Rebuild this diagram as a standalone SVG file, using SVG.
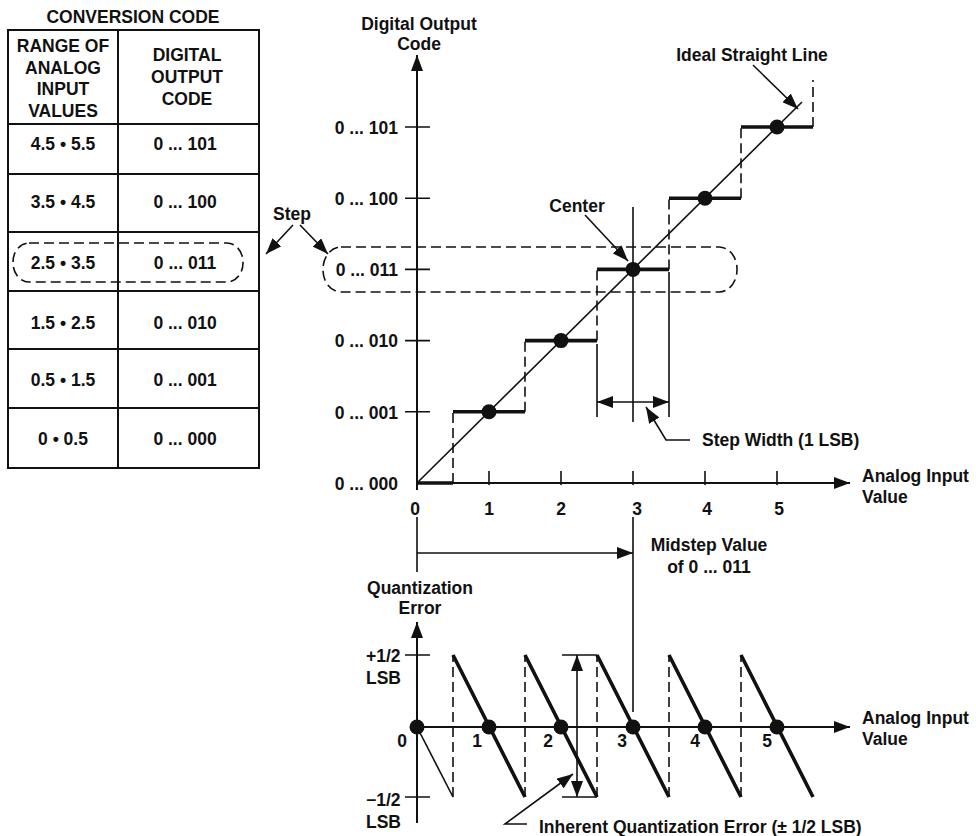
<svg xmlns="http://www.w3.org/2000/svg" width="976" height="836" viewBox="0 0 976 836">
<style>
text{font-family:"Liberation Sans",Arial,Helvetica,sans-serif;font-weight:bold;font-size:17.5px;fill:#111}
.m{text-anchor:middle}.e{text-anchor:end}
.ln{stroke:#111;stroke-width:1.6;fill:none}
.ax{stroke:#111;stroke-width:2;fill:none}
.tk{stroke:#111;stroke-width:3.6;fill:none}
.ds{stroke:#111;stroke-width:1.6;fill:none;stroke-dasharray:10 5}
.dot{fill:#111}
</style>
<defs>
<marker id="ah" markerUnits="userSpaceOnUse" markerWidth="16" markerHeight="12" refX="16" refY="6" orient="auto-start-reverse">
<path d="M0,0 L16,6 L0,12 z" fill="#111"/>
</marker>
</defs>

<g id="table">
<text class="m" x="133" y="22.5">CONVERSION CODE</text>
<rect x="8" y="30" width="251" height="438" fill="none" stroke="#111" stroke-width="2"/>
<line class="ax" x1="118" y1="30" x2="118" y2="468"/>
<line class="ax" x1="8" y1="124" x2="259" y2="124"/>
<line class="ax" x1="8" y1="174" x2="259" y2="174"/>
<line class="ax" x1="8" y1="232" x2="259" y2="232"/>
<line class="ax" x1="8" y1="291" x2="259" y2="291"/>
<line class="ax" x1="8" y1="349" x2="259" y2="349"/>
<line class="ax" x1="8" y1="408" x2="259" y2="408"/>
<text class="m" x="63" y="52">RANGE OF</text>
<text class="m" x="63" y="73.5">ANALOG</text>
<text class="m" x="63" y="95">INPUT</text>
<text class="m" x="63" y="116.5">VALUES</text>
<text class="m" x="187" y="61">DIGITAL</text>
<text class="m" x="187" y="83">OUTPUT</text>
<text class="m" x="187" y="105">CODE</text>
<text class="m" x="63" y="149.5">4.5 • 5.5</text><text class="m" x="185" y="149.5">0 ... 101</text>
<text class="m" x="63" y="207.5">3.5 • 4.5</text><text class="m" x="185" y="207.5">0 ... 100</text>
<text class="m" x="63" y="269">2.5 • 3.5</text><text class="m" x="185" y="269">0 ... 011</text>
<text class="m" x="63" y="329">1.5 • 2.5</text><text class="m" x="185" y="329">0 ... 010</text>
<text class="m" x="63" y="386">0.5 • 1.5</text><text class="m" x="185" y="386">0 ... 001</text>
<text class="m" x="63" y="445">0 • 0.5</text><text class="m" x="185" y="445">0 ... 000</text>
<rect class="ds" x="13" y="243" width="230" height="39" rx="16" ry="19"/>
</g>

<g id="step-label">
<text class="m" x="292" y="220">Step</text>
</g>

<g id="top-chart">
<text class="m" x="419" y="29.5">Digital Output</text>
<text class="m" x="419" y="50">Code</text>
<text class="e" x="398" y="133.5">0 ... 101</text>
<text class="e" x="398" y="204.7">0 ... 100</text>
<text class="e" x="398" y="276">0 ... 011</text>
<text class="e" x="398" y="347">0 ... 010</text>
<text class="e" x="398" y="418.5">0 ... 001</text>
<text class="e" x="398" y="489.5">0 ... 000</text>
<text class="m" x="415" y="515">0</text>
<text class="m" x="489" y="515">1</text>
<text class="m" x="561" y="515">2</text>
<text class="m" x="637" y="515">3</text>
<text class="m" x="707" y="515">4</text>
<text class="m" x="779" y="515">5</text>
<text x="862" y="481.5">Analog Input</text>
<text x="862" y="502.5">Value</text>
<path class="ln" d="M405,127H430M405,198.2H430M405,269.4H430M405,340.6H430M405,411.8H430"/>
<path class="ln" d="M489,471V485M561,471V485M705,471V485M777,471V485M633,471V485"/>
<rect class="ds" x="323" y="247" width="414" height="45" rx="18" ry="22"/>
<path class="tk" d="M417,483H453M453,411.8H525M525,340.6H597M597,269.4H669M669,198.2H741M741,127H813"/>
<path class="ds" d="M453,483V411.8M525,411.8V340.6M597,340.6V269.4M669,269.4V198.2M741,198.2V127M813,127V80"/>
<line class="ln" x1="417" y1="483" x2="802" y2="102"/>
<circle class="dot" cx="489" cy="411.8" r="7.5"/>
<circle class="dot" cx="561" cy="340.6" r="7.5"/>
<circle class="dot" cx="633" cy="269.4" r="7.5"/>
<circle class="dot" cx="705" cy="198.2" r="7.5"/>
<circle class="dot" cx="777" cy="127" r="7.5"/>
<path class="ln" d="M597,344V417M669,272V417M633,207V422"/>
<text class="m" x="577" y="212">Center</text>
<text class="m" x="752" y="61">Ideal Straight Line</text>
<text x="702" y="445.7">Step Width (1 LSB)</text>
</g>

<g id="bottom-chart">
<text class="m" x="420" y="593.5">Quantization</text>
<text class="m" x="420" y="613.5">Error</text>
<text x="366" y="661.5">+1/2</text>
<text x="366" y="684">LSB</text>
<text x="366" y="805.5">−1/2</text>
<text x="366" y="828">LSB</text>
<text class="m" x="402" y="746.5">0</text>
<text class="m" x="477" y="746.5">1</text>
<text class="m" x="548" y="746.5">2</text>
<text class="m" x="622" y="746.5">3</text>
<text class="m" x="695" y="746.5">4</text>
<text class="m" x="767" y="746.5">5</text>
<text x="862" y="723.5">Analog Input</text>
<text x="862" y="745">Value</text>
<text class="m" x="709" y="551">Midstep Value</text>
<text class="m" x="709" y="573">of 0 ... 011</text>
<text x="539" y="833">Inherent Quantization Error (± 1/2 LSB)</text>
<path class="ln" d="M405,655H430M405,797H430M562,655H597M562,797H597"/>
<path class="ds" d="M453,797V655M525,797V655M597,797V655M669,797V655M741,797V655"/>
<line class="ln" x1="417" y1="727" x2="453" y2="797"/>
<path class="tk" d="M453,655L525,797M525,655L597,797M597,655L669,797M669,655L741,797M741,655L813,797"/>
<circle class="dot" cx="417" cy="727" r="7.5"/>
<circle class="dot" cx="489" cy="727" r="7.5"/>
<circle class="dot" cx="561" cy="727" r="7.5"/>
<circle class="dot" cx="633" cy="727" r="7.5"/>
<circle class="dot" cx="705" cy="727" r="7.5"/>
<circle class="dot" cx="777" cy="727" r="7.5"/>
<path class="ln" d="M633,517V712M417,517V572"/>
</g>

<g id="connectors">
<line class="ax" x1="417" y1="490" x2="417" y2="55" marker-end="url(#ah)"/>
<line class="ax" x1="417" y1="483" x2="850" y2="483" marker-end="url(#ah)"/>
<line class="ax" x1="417" y1="823" x2="417" y2="622" marker-end="url(#ah)"/>
<line class="ax" x1="417" y1="727" x2="850" y2="727" marker-end="url(#ah)"/>
<line class="ln" x1="753" y1="65" x2="798" y2="109" marker-end="url(#ah)"/>
<line class="ln" x1="585" y1="215" x2="628" y2="261" marker-end="url(#ah)"/>
<line class="ln" x1="293" y1="225" x2="266" y2="254" marker-end="url(#ah)"/>
<line class="ln" x1="300" y1="225" x2="328" y2="254" marker-end="url(#ah)"/>
<line class="ln" x1="597" y1="402" x2="669" y2="402" marker-start="url(#ah)" marker-end="url(#ah)"/>
<polyline class="ln" points="690,440 666,440 646,407" marker-end="url(#ah)"/>
<line class="ln" x1="417" y1="553" x2="633" y2="553" marker-end="url(#ah)"/>
<line class="ln" x1="577" y1="655" x2="577" y2="797" marker-start="url(#ah)" marker-end="url(#ah)"/>
<polyline class="ln" points="527,824 505,824 573,774" marker-end="url(#ah)"/>
</g>
</svg>
